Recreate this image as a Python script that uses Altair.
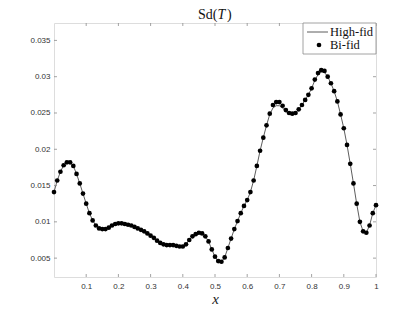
import altair as alt
import pandas as pd

# x positions of samples (0 .. 1 step 0.01)
x_vals = [i / 100 for i in range(101)]

# Bi-fid estimate (dots)
bi_fid = [
    0.0141, 0.0157, 0.0169, 0.0178, 0.0182, 0.0182, 0.0177, 0.0166, 0.0153, 0.0139,
    0.0125, 0.0112, 0.0102, 0.0095, 0.0091, 0.0090, 0.0090, 0.0092, 0.0095, 0.0097,
    0.0098, 0.0098, 0.0097, 0.0096, 0.0095, 0.0093, 0.0091, 0.0089, 0.0087, 0.0084,
    0.0081, 0.0078, 0.0074, 0.0071, 0.0069, 0.0068, 0.0068, 0.0068, 0.0067, 0.0066,
    0.0066, 0.0069, 0.0075, 0.0080, 0.0083, 0.0085, 0.0084, 0.0080, 0.0073, 0.0062,
    0.0052, 0.0046, 0.0045, 0.0051, 0.0064, 0.0077, 0.0090, 0.0101, 0.0112, 0.0122,
    0.0130, 0.0141, 0.0157, 0.0177, 0.0198, 0.0216, 0.0233, 0.0249, 0.0261, 0.0265,
    0.0265, 0.0260, 0.0254, 0.0250, 0.0249, 0.0250, 0.0255, 0.0261, 0.0268, 0.0275,
    0.0284, 0.0296, 0.0305, 0.0309, 0.0308, 0.0300, 0.0291, 0.0280, 0.0266, 0.0248,
    0.0229, 0.0206, 0.0180, 0.0153, 0.0125, 0.0100, 0.0087, 0.0085, 0.0095, 0.0112,
    0.0123,
]

# High-fid reference (line)
high_fid = [
    0.0141, 0.0157, 0.0169, 0.0178, 0.0182, 0.0182, 0.0177, 0.0166, 0.0153, 0.0139,
    0.0125, 0.0112, 0.0102, 0.0095, 0.0091, 0.0090, 0.0090, 0.0092, 0.0095, 0.0097,
    0.0098, 0.0098, 0.0097, 0.0096, 0.0095, 0.0093, 0.0091, 0.0089, 0.0087, 0.0084,
    0.0081, 0.0078, 0.0074, 0.0071, 0.0069, 0.0068, 0.0068, 0.0068, 0.0067, 0.0066,
    0.0066, 0.0069, 0.0075, 0.0080, 0.0083, 0.0085, 0.0084, 0.0080, 0.0073, 0.0062,
    0.0052, 0.0046, 0.0045, 0.0051, 0.0064, 0.0077, 0.0090, 0.0101, 0.0112, 0.0122,
    0.0130, 0.0141, 0.0157, 0.0177, 0.0198, 0.0216, 0.0233, 0.0248, 0.0257, 0.0260,
    0.0260, 0.0257, 0.0252, 0.0249, 0.0248, 0.0250, 0.0255, 0.0261, 0.0268, 0.0275,
    0.0284, 0.0295, 0.0303, 0.0307, 0.0306, 0.0300, 0.0291, 0.0280, 0.0266, 0.0248,
    0.0229, 0.0206, 0.0180, 0.0153, 0.0125, 0.0100, 0.0087, 0.0085, 0.0095, 0.0112,
    0.0123,
]

title_parts = ["Sd(", "T", ")"]
series_names = ["High-fid", "Bi-fid"]
x_ticks = [0.1, 0.2, 0.3, 0.4, 0.5, 0.6, 0.7, 0.8, 0.9, 1.0]
y_ticks = [0.005, 0.01, 0.015, 0.02, 0.025, 0.03, 0.035]
x_domain = [0, 1]
y_domain = [0.0024, 0.0374]

W, H = 322, 254
FRAME = "#8c8c8c"
SERIF = "Liberation Serif"

df = pd.DataFrame({"x": x_vals, "hf": high_fid, "bf": bi_fid})
one = pd.DataFrame({"k": [0]})
xs = alt.Scale(domain=x_domain, nice=False, zero=False)
ys = alt.Scale(domain=y_domain, nice=False, zero=False)

x_axis = alt.Axis(values=x_ticks, ticks=False, grid=False, domain=False,
                  labelFont="Liberation Sans", labelFontSize=8, labelColor="#333",
                  labelPadding=5, labelOverlap=False, labelFlush=False, title="x",
                  titleFont=SERIF, titleFontStyle="italic", titleFontWeight="normal",
                  titleFontSize=15, titlePadding=1, titleColor="#222",
                  labelExpr="datum.value == 1 ? '1' : format(datum.value, '.1f')")
y_axis = alt.Axis(values=y_ticks, ticks=False, grid=False, domain=False,
                  labelFont="Liberation Sans", labelFontSize=8, labelColor="#333",
                  labelPadding=4, labelOverlap=False, labelFlush=False, title=None,
                  labelExpr="format(datum.value, '.3~f')")


def X(field):
    return alt.X(field, scale=xs, axis=x_axis)


def Y(field):
    return alt.Y(field, scale=ys, axis=y_axis)


base = alt.Chart(df)
line = base.mark_line(color="#333333", strokeWidth=0.8).encode(x=X("x:Q"), y=Y("hf:Q"))
dots = base.mark_circle(color="black", size=22, opacity=1).encode(x=X("x:Q"), y=Y("bf:Q"))

xt = pd.DataFrame({"t": x_ticks})
yt = pd.DataFrame({"t": y_ticks})
tick_style = dict(color=FRAME, strokeWidth=0.8)
tb = alt.Chart(xt).mark_rule(**tick_style).encode(x=X("t:Q"), y=alt.value(H), y2=alt.value(H - 3))
tt = alt.Chart(xt).mark_rule(**tick_style).encode(x=X("t:Q"), y=alt.value(0), y2=alt.value(3))
tl = alt.Chart(yt).mark_rule(**tick_style).encode(y=Y("t:Q"), x=alt.value(0), x2=alt.value(3))
tr = alt.Chart(yt).mark_rule(**tick_style).encode(y=Y("t:Q"), x=alt.value(W), x2=alt.value(W - 3))

# legend box
deco = alt.Chart(one)
leg_box = deco.mark_rect(fill="white", stroke=FRAME, strokeWidth=0.8).encode(
    x=alt.value(249), x2=alt.value(W), y=alt.value(0), y2=alt.value(31))
leg_line = deco.mark_rule(color="#333333", strokeWidth=0.8).encode(
    x=alt.value(253), x2=alt.value(274), y=alt.value(9))
leg_dot = deco.mark_circle(color="black", size=22, opacity=1).encode(
    x=alt.value(265), y=alt.value(22))
leg_t1 = deco.mark_text(text=series_names[0], font=SERIF, fontSize=12.5, align="left",
                        baseline="middle", color="#111").encode(x=alt.value(276), y=alt.value(9))
leg_t2 = deco.mark_text(text=series_names[1], font=SERIF, fontSize=12.5, align="left",
                        baseline="middle", color="#111").encode(x=alt.value(276), y=alt.value(22))

# title Sd(T) with italic T
t_style = dict(font=SERIF, fontSize=14, baseline="alphabetic", color="#111", align="left")
ti1 = deco.mark_text(text=title_parts[0], **t_style).encode(x=alt.value(144), y=alt.value(-4.5))
ti2 = deco.mark_text(text=title_parts[1], fontStyle="italic", **t_style).encode(x=alt.value(163.5), y=alt.value(-4.5))
ti3 = deco.mark_text(text=title_parts[2], **t_style).encode(x=alt.value(173), y=alt.value(-4.5))

chart = alt.layer(line, dots, tb, tt, tl, tr, leg_box, leg_line, leg_dot, leg_t1, leg_t2,
                  ti1, ti2, ti3).properties(
    width=W, height=H,
    padding={"left": 46, "top": 15, "right": 30, "bottom": 30},
    autosize=alt.AutoSizeParams(type="none"),
).configure_view(stroke=FRAME, strokeWidth=0.8).configure(background="white")

chart.save("out.html", embed_options={"renderer": "svg", "actions": False})
